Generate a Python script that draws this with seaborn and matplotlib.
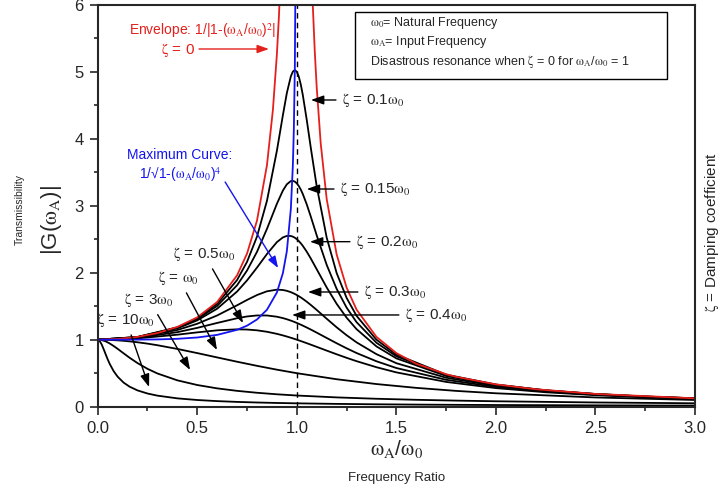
import pandas as pd
import matplotlib
matplotlib.use("Agg")
import matplotlib.pyplot as plt
import seaborn as sns
from matplotlib.patches import Rectangle
from matplotlib.ticker import MultipleLocator, FormatStrFormatter

# ---- data ----
# frequency ratio grid for the lightly damped curves
ratio_fine = [0, 0.2, 0.4, 0.5, 0.6, 0.7, 0.75, 0.8, 0.85, 0.9, 0.93, 0.95, 0.97,
              0.98, 0.99, 1.0, 1.01, 1.02, 1.03, 1.05, 1.07, 1.1, 1.15, 1.2, 1.25,
              1.3, 1.4, 1.5, 1.75, 2.0, 2.25, 2.5, 2.75, 3.0]

g_z010 = [1, 1.0408, 1.1851, 1.3217, 1.5357, 1.8908, 2.1621, 2.5384, 3.0728, 3.8208,
          4.350, 4.6826, 4.931, 5.001, 5.025, 5.0, 4.926, 4.809, 4.655, 4.279, 3.869,
          3.288, 2.5245, 1.9952, 1.6246, 1.3562, 1.0, 0.7779, 0.4780, 0.3304, 0.2447,
          0.1896, 0.1518, 0.1247]
g_z015 = [1, 1.0396, 1.1785, 1.3074, 1.5042, 1.8131, 2.0327, 2.3112, 2.6534, 3.0289,
          3.2259, 3.3199, 3.3677, 3.3710, 3.3595, 3.3333, 3.2931, 3.2399, 3.1751, 3.0188,
          2.8394, 2.5566, 2.1174, 1.7590, 1.4792, 1.2617, 0.9543, 0.7527, 0.4699, 0.3269,
          0.2428, 0.1886, 0.1512, 0.1242]
g_z020 = [1, 1.0381, 1.1695, 1.2883, 1.4630, 1.7188, 1.8851, 2.0761, 2.2786, 2.4566,
          2.5267, 2.5490, 2.5479, 2.5381, 2.5221, 2.5, 2.4722, 2.4391, 2.4011, 2.3131,
          2.2130, 2.0511, 1.7800, 1.5357, 1.3287, 1.1574, 0.8998, 0.7212, 0.4591, 0.3221,
          0.2403, 0.1871, 0.1503, 0.1236]
g_z030 = [1, 1.0336, 1.1447, 1.2380, 1.3618, 1.5136, 1.5933, 1.6667, 1.7223, 1.7469,
          1.7418, 1.7293, 1.7094, 1.6968, 1.6825, 1.6667, 1.6492, 1.6304, 1.6103, 1.5667,
          1.5194, 1.4438, 1.3129, 1.1851, 1.0667, 0.9603, 0.7839, 0.6492, 0.4321, 0.3095,
          0.2336, 0.1831, 0.1478, 0.1220]
g_z040 = [1, 1.0275, 1.1125, 1.1765, 1.25, 1.3203, 1.3467, 1.3618, 1.3616, 1.3429,
          1.3225, 1.3051, 1.2849, 1.2739, 1.2622, 1.25, 1.2372, 1.2240, 1.2103, 1.1817,
          1.1518, 1.1053, 1.0258, 0.9469, 0.8716, 0.8012, 0.6779, 0.5771, 0.4012, 0.2941,
          0.2251, 0.1780, 0.1445, 0.1197]
g_z050 = [1, 1.0198, 1.0748, 1.1094, 1.1399, 1.1546, 1.1517, 1.1399, 1.1184, 1.0872,
          1.0641, 1.0471, 1.0290, 1.0196, 1.0099, 1.0, 0.9899, 0.9796, 0.9692, 0.9479,
          0.9261, 0.8930, 0.8373, 0.7824, 0.7295, 0.6795, 0.5891, 0.5121, 0.3697, 0.2774,
          0.2153, 0.1720, 0.1405, 0.1170]

# frequency ratio grid for the heavily damped curves
ratio_wide = [0, 0.01, 0.02, 0.03, 0.04, 0.05, 0.06, 0.08, 0.1, 0.13, 0.16, 0.2, 0.25,
              0.3, 0.4, 0.5, 0.6, 0.7, 0.8, 0.9, 1.0, 1.2, 1.4, 1.6, 1.8, 2.0, 2.5, 3.0]

g_z1 = [1, 0.9999, 0.9996, 0.9991, 0.9984, 0.9975, 0.9964, 0.9936, 0.9901, 0.9834,
        0.9750, 0.9615, 0.9412, 0.9174, 0.8621, 0.8, 0.7353, 0.6711, 0.6098, 0.5525,
        0.5, 0.4098, 0.3378, 0.2809, 0.2358, 0.2, 0.1379, 0.1]
g_z3 = [1, 0.9983, 0.9933, 0.9850, 0.9753, 0.9600, 0.9439, 0.9062, 0.8638, 0.7968,
        0.7311, 0.6507, 0.5653, 0.4958, 0.3933, 0.3234, 0.2735, 0.2364, 0.2078, 0.1851,
        0.1667, 0.1386, 0.1183, 0.1028, 0.0907, 0.0808, 0.0629, 0.0508]
g_z10 = [1, 0.9806, 0.9288, 0.8581, 0.7824, 0.7080, 0.6411, 0.5310, 0.4481, 0.3598,
         0.2989, 0.2431, 0.1966, 0.1648, 0.1243, 0.0997, 0.0832, 0.0714, 0.0625, 0.0556,
         0.05, 0.0417, 0.0357, 0.0312, 0.0277, 0.0249, 0.0199, 0.0165]

# undamped envelope, two branches either side of resonance
env_left_ratio = [0, 0.1, 0.2, 0.3, 0.4, 0.5, 0.6, 0.7, 0.75, 0.8, 0.85, 0.88, 0.9, 0.91, 0.92]
env_left = [1, 1.0101, 1.0417, 1.0989, 1.1905, 1.3333, 1.5625, 1.9608, 2.2857, 2.7778,
            3.6036, 4.4326, 5.2632, 5.817, 6.510]
env_right_ratio = [1.07, 1.08, 1.09, 1.1, 1.12, 1.15, 1.2, 1.25, 1.3, 1.4, 1.5, 1.6,
                   1.75, 1.8, 2.0, 2.2, 2.5, 3.0]
env_right = [6.901, 6.010, 5.316, 4.762, 3.931, 3.101, 2.273, 1.778, 1.449, 1.0417, 0.8,
             0.641, 0.4848, 0.4464, 0.3333, 0.2604, 0.1905, 0.125]

# locus of the resonance peaks
max_ratio = [0, 0.1, 0.2, 0.3, 0.4, 0.5, 0.6, 0.7, 0.75, 0.8, 0.85, 0.9, 0.93, 0.95,
             0.97, 0.98, 0.985, 0.99, 0.995]
max_curve = [1, 1.0001, 1.0008, 1.0041, 1.0131, 1.0328, 1.0719, 1.1472, 1.2095, 1.3015,
             1.4464, 1.7053, 1.9923, 2.3219, 2.9526, 3.5891, 4.1288, 5.0379, 7.098]

resonance_ratio = 1.0

# ---- build long tables ----
fine = {"0.1": g_z010, "0.15": g_z015, "0.2": g_z020, "0.3": g_z030,
        "0.4": g_z040, "0.5": g_z050}
wide = {"1": g_z1, "3": g_z3, "10": g_z10}
rows = []
for name, vals in fine.items():
    rows += [(r, g, name) for r, g in zip(ratio_fine, vals)]
for name, vals in wide.items():
    rows += [(r, g, name) for r, g in zip(ratio_wide, vals)]
df_damped = pd.DataFrame(rows, columns=["ratio", "gain", "zeta"])

df_env = pd.DataFrame(
    [(r, g, "left") for r, g in zip(env_left_ratio, env_left)]
    + [(r, g, "right") for r, g in zip(env_right_ratio, env_right)],
    columns=["ratio", "gain", "branch"])
df_max = pd.DataFrame({"ratio": max_ratio, "gain": max_curve})

# ---- style ----
sns.set_style("ticks")
plt.rcParams["font.family"] = ["Liberation Sans", "DejaVu Sans"]
plt.rcParams["mathtext.fontset"] = "stix"

RED = "#e4201c"
BLUE = "#1414f0"
W0 = r"$\mathrm{\omega_0}$"
WA = r"$\mathrm{\omega_A}$"
ZT = r"$\mathrm{\zeta}$"

fig = plt.figure(figsize=(7.21, 4.92), dpi=100)
ax = fig.add_axes([0.1355, 0.1734, 0.8285, 0.817])

sns.lineplot(data=df_damped, x="ratio", y="gain", units="zeta", estimator=None,
             sort=False, color="black", lw=1.3, ax=ax)
sns.lineplot(data=df_env, x="ratio", y="gain", units="branch", estimator=None,
             sort=False, color=RED, lw=1.3, ax=ax)
sns.lineplot(data=df_max, x="ratio", y="gain", estimator=None, sort=False,
             color=BLUE, lw=1.3, ax=ax)
ax.axvline(resonance_ratio, color="black", lw=1.0, ls=(0, (4, 3)), zorder=1)

ax.set_xlim(0, 3)
ax.set_ylim(0, 6)
ax.set_xlabel("")
ax.set_ylabel("")
ax.xaxis.set_major_locator(MultipleLocator(0.5))
ax.xaxis.set_minor_locator(MultipleLocator(0.25))
ax.xaxis.set_major_formatter(FormatStrFormatter("%.1f"))
ax.yaxis.set_major_locator(MultipleLocator(1))
ax.yaxis.set_minor_locator(MultipleLocator(0.5))
ax.tick_params(which="major", direction="out", length=5.5, width=1.2, labelsize=12)
ax.tick_params(axis="x", which="major", pad=4.5)
ax.tick_params(axis="y", which="major", pad=4.5)
ax.tick_params(which="minor", direction="out", length=3, width=1.2)
for s in ax.spines.values():
    s.set_visible(True)
    s.set_linewidth(1.5)

# ---- labels around the axes ----
fig.text(20 / 721, 1 - 210 / 492, "Transmissibility", rotation=90, fontsize=7.5,
         ha="center", va="center")
fig.text(51 / 721, 1 - 220 / 492, "|G(" + WA + ")|", rotation=90, fontsize=16,
         ha="center", va="center")
fig.text(397 / 721, 1 - 449 / 492, WA + "/" + W0, fontsize=15,
         ha="center", va="center")
fig.text(397 / 721, 1 - 478 / 492, "Frequency Ratio", fontsize=9.5,
         ha="center", va="center")
fig.text(712 / 721, 1 - 232 / 492, ZT + " = Damping coefficient", rotation=90,
         fontsize=11, ha="center", va="center")

# ---- info box ----
ax.add_patch(Rectangle((1.292, 4.891), 1.567, 1.0, fill=False, lw=1.0,
                       edgecolor="black", zorder=5))
box_lines = [W0 + "= Natural Frequency",
             WA + "= Input Frequency",
             "Disastrous resonance when " + ZT + " = 0 for " + WA + "/" + W0 + " = 1"]
for yy, line in zip([5.725, 5.442, 5.157], box_lines):
    ax.text(1.368, yy, line, fontsize=9, ha="left", va="center")

# ---- annotations ----
arrow_k = dict(arrowstyle="-|>,head_length=0.7,head_width=0.25", color="black",
               lw=1.0, shrinkA=2, shrinkB=0)
right_labels = [
    (ZT + " = 0.1" + W0, (1.071, 4.578), 1.227),
    (ZT + " = 0.15" + W0, (1.050, 3.249), 1.217),
    (ZT + " = 0.2" + W0, (1.066, 2.463), 1.297),
    (ZT + " = 0.3" + W0, (1.056, 1.712), 1.337),
    (ZT + " = 0.4" + W0, (0.976, 1.369), 1.543),
]
for txt, tip, tx in right_labels:
    ax.annotate(txt, xy=tip, xytext=(tx, tip[1]), ha="left", va="center",
                fontsize=11, arrowprops=arrow_k)

left_labels = [
    (ZT + " = 0.5" + W0, (0.535, 2.276), (0.730, 1.249)),
    (ZT + " = " + W0, (0.406, 1.919), (0.599, 0.846)),
    (ZT + " = 3" + W0, (0.258, 1.593), (0.464, 0.548)),
    (ZT + " = 10" + W0, (0.142, 1.294), (0.258, 0.294)),
]
for txt, pos, tip in left_labels:
    ax.annotate(txt, xy=tip, xytext=pos, ha="center", va="center",
                fontsize=11, arrowprops=arrow_k)

ax.text(0.526, 5.621, "Envelope: 1/|1-(" + WA + "/" + W0 + r")$^2$|", color=RED,
        fontsize=10, ha="center", va="center")
ax.text(0.401, 5.324, ZT + " = 0", color=RED, fontsize=11, ha="center", va="center")
ax.annotate("", xy=(0.860, 5.339), xytext=(0.509, 5.339),
            arrowprops=dict(arrowstyle="-|>,head_length=0.7,head_width=0.25",
                            color=RED, lw=1.0, shrinkA=0, shrinkB=0))

ax.text(0.413, 3.754, "Maximum Curve:", color=BLUE, fontsize=10, ha="center", va="center")
ax.text(0.413, 3.457, "1/\u221a1-(" + WA + "/" + W0 + r")$^4$", color=BLUE,
        fontsize=10, ha="center", va="center")
ax.annotate("", xy=(0.906, 2.070), xytext=(0.640, 3.354),
            arrowprops=dict(arrowstyle="-|>,head_length=0.7,head_width=0.25",
                            color=BLUE, lw=1.0, shrinkA=0, shrinkB=0))

fig.savefig("out.png", dpi=100)
